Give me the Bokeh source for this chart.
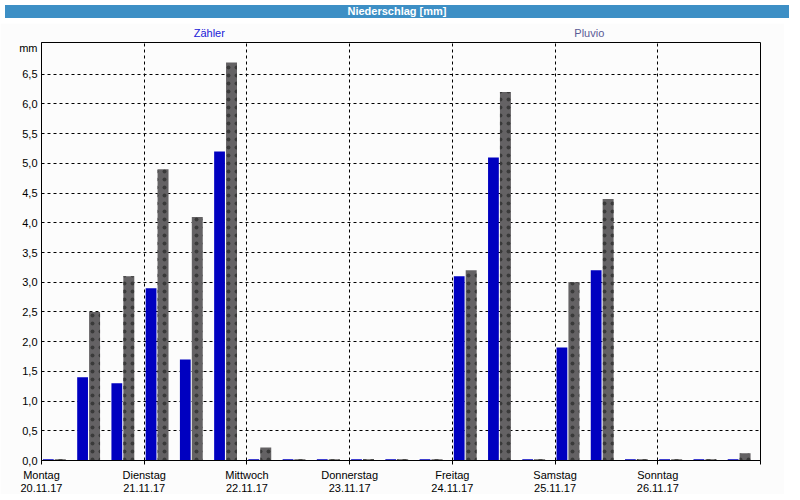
from bokeh.plotting import figure
from bokeh.models import Range1d, FixedTicker, ColumnDataSource, Div, LinearAxis
from bokeh.layouts import column
from bokeh.embed import file_html
from bokeh.resources import INLINE

# ---------------- data ----------------
title_text = "Niederschlag [mm]"
unit_label = "mm"
days = ["Montag", "Dienstag", "Mittwoch", "Donnerstag", "Freitag", "Samstag", "Sonntag"]
dates = ["20.11.17", "21.11.17", "22.11.17", "23.11.17", "24.11.17", "25.11.17", "26.11.17"]
series_names = ["Zähler", "Pluvio"]
# three 8-hour periods per day
zaehler = [0.02, 1.4, 1.3,
           2.9, 1.7, 5.2,
           0.02, 0.02, 0.02,
           0.02, 0.02, 0.02,
           3.1, 5.1, 0.02,
           1.9, 3.2, 0.02,
           0.02, 0.02, 0.02]
pluvio = [0.02, 2.5, 3.1,
          4.9, 4.1, 6.7,
          0.22, 0.02, 0.02,
          0.02, 0.02, 0.02,
          3.2, 6.2, 0.02,
          3.0, 4.4, 0.02,
          0.02, 0.02, 0.12]
y_ticks = [0.0, 0.5, 1.0, 1.5, 2.0, 2.5, 3.0, 3.5, 4.0, 4.5, 5.0, 5.5, 6.0, 6.5]
y_tick_labels = ["0,0", "0,5", "1,0", "1,5", "2,0", "2,5", "3,0", "3,5",
                 "4,0", "4,5", "5,0", "5,5", "6,0", "6,5"]

# ---------------- styles ----------------
FONT = "Liberation Sans"
FS = "11px"
BG = "#fcfcfc"
BLUE = "#0000c0"
GREY = "#646264"
Y_MAX = 7.035
UNIT_POS = 6.94         # height of the "mm" caption on the value axis
NAME_POS = [4.9, 16.0]  # x positions of the series captions
NAME_COLORS = ["#2020d8", "#5a5a96"]
NAME_STANDOFF = [4, -15]
SLOTS = 3
n_slots = len(zaehler)
n_days = len(days)

slot_idx = list(range(n_slots))
src = ColumnDataSource(dict(
    xb=[i + 0.2 for i in slot_idx],
    xg=[i + 0.55 for i in slot_idx],
    zaehler=zaehler,
    pluvio=pluvio,
))

title = Div(text=title_text, width=784, height=13,
            styles={"background-color": "#3d8fc5", "color": "white",
                    "font-weight": "bold", "font-size": FS,
                    "font-family": FONT, "text-align": "center",
                    "line-height": "13px"})

p = figure(width=784, height=471, output_backend="svg", toolbar_location=None,
           x_range=Range1d(0, n_slots), y_range=Range1d(0, Y_MAX),
           x_axis_location=None, y_axis_location=None,
           min_border_left=41, min_border_right=24, min_border_top=17,
           min_border_bottom=34, background_fill_color=BG, border_fill_color=BG,
           outline_line_color="black", outline_line_width=1)

p.vbar(x="xb", top="zaehler", bottom=0, width=0.315, source=src,
       fill_color=BLUE, line_color=None)
p.vbar(x="xg", top="pluvio", bottom=0, width=0.32, source=src,
       fill_color=GREY, line_color=None,
       hatch_pattern="dot", hatch_color="#3a3a3a", hatch_scale=8, hatch_weight=1)


def quiet_axis(ax):
    ax.major_label_text_font = FONT
    ax.major_label_text_font_size = FS
    ax.major_label_text_color = "black"
    ax.minor_tick_out = 0
    ax.minor_tick_in = 0
    ax.major_tick_in = 0
    return ax


# ---- bottom: day names (with ticks) and dates (second row)
day_bounds = [d * SLOTS for d in range(n_days + 1)]
day_axis = quiet_axis(LinearAxis(ticker=FixedTicker(ticks=day_bounds)))
day_axis.major_label_overrides = {float(day_bounds[i]): (days[i] if i < n_days else "")
                                  for i in range(n_days + 1)}
day_axis.major_tick_out = 4
day_axis.major_label_standoff = 4
day_axis.axis_line_color = "black"
day_axis.major_tick_line_color = "black"
p.add_layout(day_axis, "below")

date_axis = quiet_axis(LinearAxis(ticker=FixedTicker(ticks=day_bounds[:-1])))
date_axis.major_label_overrides = {float(day_bounds[i]): dates[i] for i in range(n_days)}
date_axis.major_tick_out = 0
date_axis.major_label_standoff = 0
date_axis.axis_line_color = None
date_axis.major_tick_line_color = None
p.add_layout(date_axis, "below")

# ---- left: values with comma decimals, plus unit caption
ya = quiet_axis(LinearAxis(ticker=FixedTicker(ticks=y_ticks + [UNIT_POS])))
ya.major_label_overrides = {**{t: s for t, s in zip(y_ticks, y_tick_labels)},
                            UNIT_POS: unit_label}
ya.major_tick_out = 0
ya.major_label_standoff = 4
ya.axis_line_color = "black"
p.add_layout(ya, "left")

# ---- above: series captions (two axes, second pulled down to same row)
for pos, name, col, so in zip(NAME_POS, series_names, NAME_COLORS, NAME_STANDOFF):
    ax = quiet_axis(LinearAxis(ticker=FixedTicker(ticks=[pos])))
    ax.major_label_overrides = {pos: name}
    ax.major_label_text_color = col
    ax.major_tick_out = 0
    ax.axis_line_color = None
    ax.major_tick_line_color = None
    ax.major_label_standoff = so
    p.add_layout(ax, "above")

# grids
p.xgrid.ticker = FixedTicker(ticks=day_bounds[1:-1])
p.ygrid.ticker = FixedTicker(ticks=y_ticks[1:])
for g in (p.xgrid[0], p.ygrid[0]):
    g.grid_line_color = "black"
    g.grid_line_dash = "3 3"
    g.grid_line_width = 1

layout = column(title, p, spacing=0)
open("out.html", "w").write(file_html(layout, INLINE))
